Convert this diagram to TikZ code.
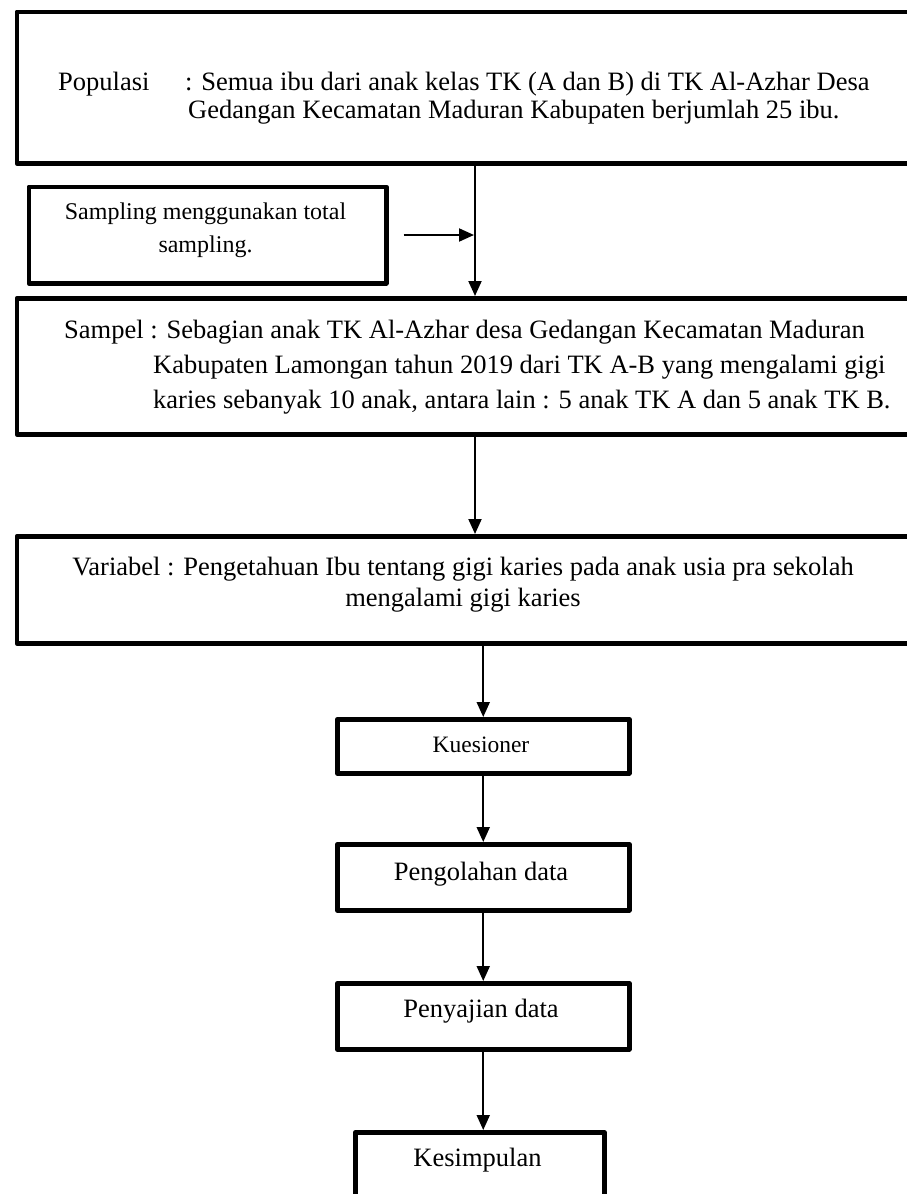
\documentclass[tikz,border=0pt]{standalone}
\usepackage{fontspec}
\setmainfont{Liberation Serif}
\usetikzlibrary{arrows.meta}
\tikzset{
  box/.style={draw=black, line width=4.5pt, line join=round, inner sep=0pt, anchor=north west, fill=none},
  txt/.style={inner sep=0pt, anchor=base west, font=\fontsize{26.5}{30}\selectfont},
  ctxt/.style={inner sep=0pt, anchor=base, font=\fontsize{26.5}{30}\selectfont},
  stxt/.style={inner sep=0pt, anchor=base, font=\fontsize{24}{27}\selectfont},
  ktxt/.style={inner sep=0pt, anchor=base, font=\fontsize{23.5}{26}\selectfont},
  arr/.style={draw=black, line width=2pt, -{Triangle[length=15pt,width=13pt]}},
}
\begin{document}
\begin{tikzpicture}[x=1pt,y=-1pt]
\useasboundingbox (0,0) rectangle (907,1194);
\clip (0,0) rectangle (907,1194);
% boxes
\node[box, minimum width=930pt, minimum height=151.5pt] (b1) at (14.5,9.5) {};
\node[box, minimum width=357.5pt, minimum height=96.5pt] (b2) at (26.5,184.5) {};
\node[box, minimum width=930pt, minimum height=136pt] (b3) at (14.5,296) {};
\node[box, minimum width=930pt, minimum height=107pt] (b4) at (14.5,534) {};
\node[box, minimum width=292pt, minimum height=54pt] (b5) at (335,717) {};
\node[box, minimum width=292pt, minimum height=66pt] (b6) at (335,842) {};
\node[box, minimum width=292pt, minimum height=66pt] (b7) at (335,981) {};
\node[box, minimum width=249pt, minimum height=100pt] (b8) at (353,1130) {};
% texts
\node[txt] (t1a) at (58,90) {\makebox[127pt][l]{Populasi}: Semua ibu dari anak kelas TK (A dan B) di TK Al-Azhar Desa};
\node[txt] (t1b) at (188,118) {Gedangan Kecamatan Maduran Kabupaten berjumlah 25 ibu.};
\node[stxt] (t2a) at (205.5,219) {Sampling menggunakan total};
\node[stxt] (t2b) at (205.5,252) {sampling.};
\node[txt] (t3a) at (64,338) {Sampel : Sebagian anak TK Al-Azhar desa Gedangan Kecamatan Maduran};
\node[txt] (t3b) at (153,373) {Kabupaten Lamongan tahun 2019 dari TK A-B yang mengalami gigi};
\node[txt] (t3c) at (153,408) {karies sebanyak 10 anak, antara lain : 5 anak TK A dan 5 anak TK B.};
\node[ctxt] (t4a) at (463,575) {Variabel : Pengetahuan Ibu tentang gigi karies pada anak usia pra sekolah};
\node[ctxt] (t4b) at (463,606) {mengalami gigi karies};
\node[ktxt] (t5) at (481,752) {Kuesioner};
\node[ctxt] (t6) at (481,880) {Pengolahan data};
\node[ctxt] (t7) at (481,1017) {Penyajian data};
\node[ctxt] (t8) at (477.5,1166) {Kesimpulan};
% connectors
\coordinate (ax) at (475,0);
\draw[arr] (b1.south -| ax) -- (b3.north -| ax);
\draw[arr] ([xshift=15pt]b2.east) -- ([xshift=-1pt]b2.east -| ax);
\draw[arr] (b3.south -| ax) -- (b4.north -| ax);
\draw[arr] (b4.south -| b5.north) -- (b5.north);
\draw[arr] (b5.south) -- (b6.north);
\draw[arr] (b6.south) -- (b7.north);
\draw[arr] (b7.south) -- (b8.north -| b7.south);
\end{tikzpicture}
\end{document}
